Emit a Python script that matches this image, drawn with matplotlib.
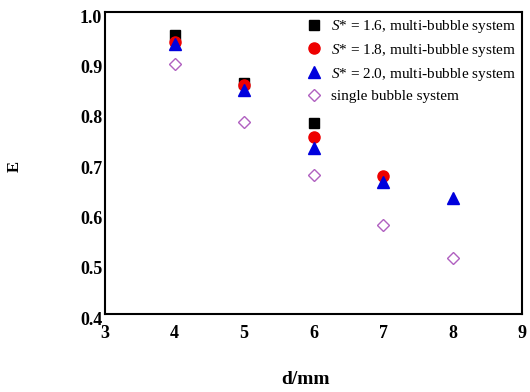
import matplotlib
matplotlib.use("Agg")
import matplotlib.pyplot as plt
import matplotlib.transforms as mtransforms

d_sq = [4, 5, 6]
E_s16 = [0.954, 0.859, 0.780]
d_ci = [4, 5, 6, 7]
E_s18 = [0.940, 0.855, 0.752, 0.675]
d_tr = [4, 5, 6, 7, 8]
E_s20 = [0.936, 0.845, 0.729, 0.663, 0.631]
d_di = [4, 5, 6, 7, 8]
E_single = [0.897, 0.781, 0.676, 0.576, 0.511]

labels = [r"$S$* = 1.6, multi-bubble system",
          r"$S$* = 1.8, multi-bubble system",
          r"$S$* = 2.0, multi-bubble system",
          "single bubble system"]

plt.rcParams['font.family'] = ['Liberation Serif', 'DejaVu Serif']
plt.rcParams['mathtext.fontset'] = 'custom'
plt.rcParams['mathtext.it'] = 'Liberation Serif:italic'
plt.rcParams['mathtext.rm'] = 'Liberation Serif'

fig = plt.figure(figsize=(5.3, 3.92), dpi=100)
ax = fig.add_axes([105/530, (392-314)/392, 417/530, 302/392])

ax.plot(d_sq, E_s16, ls='none', marker='s', ms=7, color='black', label=labels[0])
ax.plot(d_ci, E_s18, ls='none', marker='o', ms=8, color='#ee0000', label=labels[1])
ax.plot(d_tr, E_s20, ls='none', marker='^', ms=8, color='#0000dd', label=labels[2])
ax.plot(d_di, E_single, ls='none', marker='D', ms=6.5, mfc='none', mec='#b060c0',
        mew=1.0, label=labels[3])

ax.set_xlim(3, 9)
ax.set_ylim(0.4, 1.0)
ax.set_xticks([3, 4, 5, 6, 7, 8, 9])
ax.set_yticks([0.4, 0.5, 0.6, 0.7, 0.8, 0.9, 1.0])
ax.set_yticklabels(["0.4", "0.5", "0.6", "0.7", "0.8", "0.9", "1.0"])
ax.tick_params(axis='x', length=0, labelsize=13, pad=8)
ax.tick_params(axis='y', length=0, labelsize=13, pad=2)
off = mtransforms.ScaledTranslation(0, -3/72, fig.dpi_scale_trans)
for lab in ax.get_xticklabels() + ax.get_yticklabels():
    lab.set_fontweight('bold')
for lab in ax.get_yticklabels():
    lab.set_transform(lab.get_transform() + off)
for s in ax.spines.values():
    s.set_linewidth(1.5)

fig.text(305/530, 1 - 380/392, "d/mm", fontsize=14, fontweight='bold',
         ha='center', va='center')
fig.text(15/530, 1 - 167/392, "E", fontsize=12, fontweight='bold',
         rotation=90, ha='center', va='center')

leg = ax.legend(loc='upper right', frameon=False, fontsize=11,
                handletextpad=0.5, labelspacing=0.44, borderaxespad=0.05,
                handlelength=1.2, borderpad=0.35)

fig.savefig("out.png", dpi=100)
